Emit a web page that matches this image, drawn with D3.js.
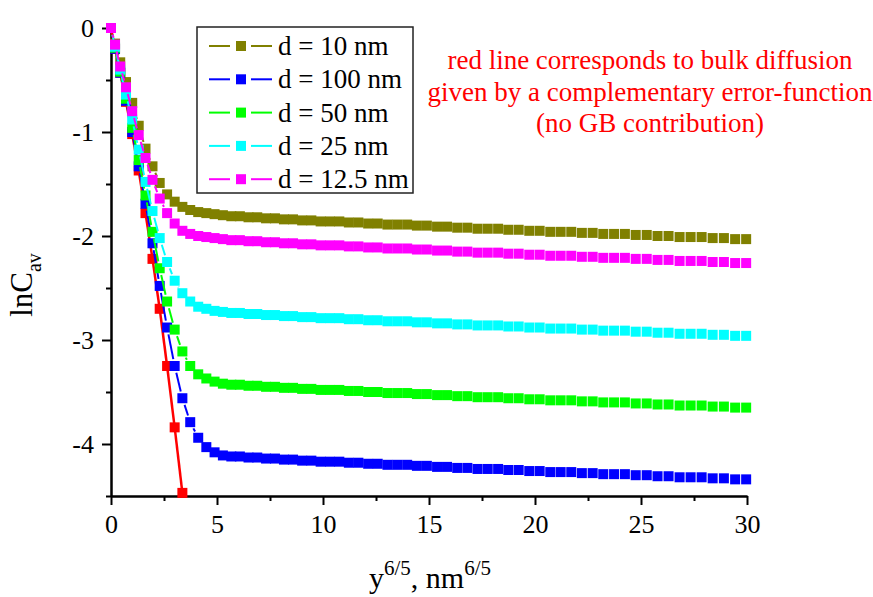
<!DOCTYPE html>
<html>
<head>
<meta charset="utf-8">
<script src="https://cdn.jsdelivr.net/npm/d3@7"></script>
<style>
  body { margin: 0; background: #fff; }
  svg { display: block; font-family: "Liberation Serif", "Times New Roman", serif; }
</style>
</head>
<body>
<div id="chart"></div>
<script>
// x = y^(6/5) positions of the computed points (same for every curve)
const xValues = [
  0, 0.19, 0.435, 0.708, 1, 1.307, 1.627, 1.957, 2.297, 2.646,
  3.003, 3.367, 3.737, 4.114, 4.497, 4.885, 5.278, 5.676, 6.079, 6.487,
  6.899, 7.314, 7.734, 8.158, 8.586, 9.017, 9.451, 9.889, 10.33, 10.77,
  11.22, 11.67, 12.13, 12.58, 13.04, 13.50, 13.97, 14.43, 14.90, 15.38,
  15.85, 16.33, 16.81, 17.29, 17.77, 18.26, 18.74, 19.23, 19.73, 20.22,
  20.72, 21.21, 21.71, 22.21, 22.72, 23.22, 23.73, 24.24, 24.75, 25.27,
  25.78, 26.30, 26.82, 27.34, 27.86, 28.38, 28.91, 29.44, 29.96
];

// lnC_av for each grain size
const lnC_d10 = [
  0, -0.15, -0.33, -0.52, -0.72, -0.94, -1.16, -1.33, -1.49, -1.60,
  -1.67, -1.72, -1.75, -1.77, -1.78, -1.79,
  -1.80, -1.81, -1.81, -1.82, -1.82, -1.83, -1.83, -1.84, -1.84, -1.85,
  -1.85, -1.86, -1.86, -1.86, -1.87, -1.87, -1.88, -1.88, -1.89, -1.89,
  -1.89, -1.90, -1.90, -1.91, -1.91, -1.92, -1.92, -1.93, -1.93, -1.93,
  -1.94, -1.94, -1.95, -1.95, -1.96, -1.96, -1.96, -1.97, -1.97, -1.98,
  -1.98, -1.98, -1.99, -1.99, -2.00, -2.00, -2.01, -2.01, -2.01, -2.02,
  -2.02, -2.03, -2.03
];
const lnC_d100 = [
  0, -0.20, -0.43, -0.70, -1.00, -1.33, -1.69, -2.07, -2.48, -2.88,
  -3.25, -3.56, -3.79, -3.94, -4.03, -4.08,
  -4.11, -4.12, -4.12, -4.13, -4.13, -4.14, -4.14, -4.15, -4.15, -4.16,
  -4.16, -4.17, -4.17, -4.17, -4.18, -4.18, -4.19, -4.19, -4.20, -4.20,
  -4.20, -4.21, -4.21, -4.22, -4.22, -4.23, -4.23, -4.24, -4.24, -4.24,
  -4.25, -4.25, -4.26, -4.26, -4.27, -4.27, -4.27, -4.28, -4.28, -4.29,
  -4.29, -4.29, -4.30, -4.30, -4.31, -4.31, -4.32, -4.32, -4.32, -4.33,
  -4.33, -4.34, -4.34
];
const lnC_d50 = [
  0, -0.19, -0.42, -0.68, -0.96, -1.27, -1.61, -1.96, -2.31, -2.63,
  -2.90, -3.11, -3.25, -3.33, -3.37, -3.40,
  -3.42, -3.43, -3.43, -3.44, -3.44, -3.45, -3.45, -3.46, -3.46, -3.47,
  -3.47, -3.48, -3.48, -3.48, -3.49, -3.49, -3.50, -3.50, -3.51, -3.51,
  -3.51, -3.52, -3.52, -3.53, -3.53, -3.54, -3.54, -3.55, -3.55, -3.55,
  -3.56, -3.56, -3.57, -3.57, -3.58, -3.58, -3.58, -3.59, -3.59, -3.60,
  -3.60, -3.60, -3.61, -3.61, -3.62, -3.62, -3.63, -3.63, -3.63, -3.64,
  -3.64, -3.65, -3.65
];
const lnC_d25 = [
  0, -0.18, -0.40, -0.64, -0.88, -1.17, -1.48, -1.76, -2.02, -2.25,
  -2.43, -2.55, -2.63, -2.68, -2.70, -2.72,
  -2.73, -2.74, -2.74, -2.75, -2.75, -2.76, -2.76, -2.77, -2.77, -2.78,
  -2.78, -2.79, -2.79, -2.79, -2.80, -2.80, -2.81, -2.81, -2.82, -2.82,
  -2.82, -2.83, -2.83, -2.84, -2.84, -2.85, -2.85, -2.86, -2.86, -2.86,
  -2.87, -2.87, -2.88, -2.88, -2.89, -2.89, -2.89, -2.90, -2.90, -2.91,
  -2.91, -2.91, -2.92, -2.92, -2.93, -2.93, -2.94, -2.94, -2.94, -2.95,
  -2.95, -2.96, -2.96
];
const lnC_d12_5 = [
  0, -0.16, -0.37, -0.57, -0.80, -1.03, -1.25, -1.46, -1.64, -1.78,
  -1.88, -1.95, -1.98, -2.00, -2.01, -2.02,
  -2.03, -2.04, -2.04, -2.05, -2.05, -2.06, -2.06, -2.07, -2.07, -2.08,
  -2.08, -2.09, -2.09, -2.09, -2.10, -2.10, -2.11, -2.11, -2.12, -2.12,
  -2.12, -2.13, -2.13, -2.14, -2.14, -2.15, -2.15, -2.16, -2.16, -2.16,
  -2.17, -2.17, -2.18, -2.18, -2.19, -2.19, -2.19, -2.20, -2.20, -2.21,
  -2.21, -2.21, -2.22, -2.22, -2.23, -2.23, -2.24, -2.24, -2.24, -2.25,
  -2.25, -2.26, -2.26
];
// bulk diffusion only (erfc), first points only
const lnC_bulk = [0, -0.20, -0.43, -0.71, -1.02, -1.37, -1.78, -2.22, -2.70, -3.25, -3.84, -4.47];

const seriesNames = ["d = 10 nm", "d = 100 nm", "d = 50 nm", "d = 25 nm", "d = 12.5 nm"];
const seriesValues = [lnC_d10, lnC_d100, lnC_d50, lnC_d25, lnC_d12_5];
const seriesColors = ["#808000", "#0000ff", "#00ff00", "#00ffff", "#ff00ff"];

const xTicks = [0, 5, 10, 15, 20, 25, 30];
const xMinorTicks = [2.5, 7.5, 12.5, 17.5, 22.5, 27.5];
const yTicks = [0, -1, -2, -3, -4];
const yMinorTicks = [-0.5, -1.5, -2.5, -3.5, -4.5];

const noteLines = [
  "red line corresponds to bulk diffusion",
  "given by a complementary error-function",
  "(no GB contribution)"
];

const W = 873, H = 597;
const sym = 10;

const svg = d3.select("#chart").append("svg")
  .attr("width", W)
  .attr("height", H);

svg.append("rect").attr("width", W).attr("height", H).attr("fill", "#fff");

const x = d3.scaleLinear().domain([0, 30]).range([111, 747]);
const y = d3.scaleLinear().domain([-4.5, 0]).range([496, 28]);

// axes: minor ticks first, then major ticks with labels
function styleAxis(g) {
  g.selectAll("path.domain").attr("stroke", "#000").attr("stroke-width", 2);
  g.selectAll(".tick line").attr("stroke", "#000").attr("stroke-width", 2);
  g.selectAll(".tick text")
    .attr("fill", "#000")
    .style("font-family", "'Liberation Serif', 'Times New Roman', serif")
    .style("font-size", "26px");
}

svg.append("g")
  .attr("transform", `translate(0,${y(-4.5)})`)
  .call(d3.axisBottom(x).tickValues(xMinorTicks).tickSize(5).tickSizeOuter(0).tickFormat(""))
  .call(styleAxis);
svg.append("g")
  .attr("transform", `translate(0,${y(-4.5)})`)
  .call(d3.axisBottom(x).tickValues(xTicks).tickSize(9).tickSizeOuter(0).tickPadding(10).tickFormat(d3.format("d")))
  .call(styleAxis);

svg.append("g")
  .attr("transform", `translate(${x(0)},0)`)
  .call(d3.axisLeft(y).tickValues(yMinorTicks).tickSize(5).tickSizeOuter(0).tickFormat(""))
  .call(styleAxis);
svg.append("g")
  .attr("transform", `translate(${x(0)},0)`)
  .call(d3.axisLeft(y).tickValues(yTicks).tickSize(9).tickSizeOuter(0).tickPadding(8)
    .tickFormat(d => d === 0 ? "0" : "-" + Math.abs(d)))
  .call(styleAxis);

// axis titles
const yTitle = svg.append("text")
  .attr("transform", "translate(32,285) rotate(-90)")
  .attr("text-anchor", "middle")
  .style("font-size", "31px");
yTitle.append("tspan").text("lnC");
yTitle.append("tspan").attr("dy", 9).style("font-size", "20px").text("av");

const xTitle = svg.append("text")
  .attr("x", 430)
  .attr("y", 588)
  .attr("text-anchor", "middle")
  .style("font-size", "30px");
xTitle.append("tspan").text("y");
xTitle.append("tspan").attr("dy", -13).style("font-size", "21px").text("6/5");
xTitle.append("tspan").attr("dy", 13).text(", nm");
xTitle.append("tspan").attr("dy", -13).style("font-size", "21px").text("6/5");

// line segments broken around each symbol (Origin style)
function drawSeries(values, color, gap, width) {
  const pts = values.map((v, i) => [x(xValues[i]), y(v)]);
  const g = svg.append("g");
  for (let i = 1; i < pts.length; i++) {
    const [x0, y0] = pts[i - 1], [x1, y1] = pts[i];
    const len = Math.hypot(x1 - x0, y1 - y0);
    if (len <= 2 * gap) continue;
    const ux = (x1 - x0) / len, uy = (y1 - y0) / len;
    g.append("line")
      .attr("x1", x0 + ux * gap).attr("y1", y0 + uy * gap)
      .attr("x2", x1 - ux * gap).attr("y2", y1 - uy * gap)
      .attr("stroke", color)
      .attr("stroke-width", width);
  }
  g.selectAll("rect")
    .data(pts)
    .join("rect")
    .attr("x", d => d[0] - sym / 2)
    .attr("y", d => d[1] - sym / 2)
    .attr("width", sym)
    .attr("height", sym)
    .attr("fill", color);
}

drawSeries(lnC_bulk, "#ff0000", 4, 2.5);
seriesValues.forEach((vals, i) => drawSeries(vals, seriesColors[i], 7, 2));

// legend
const legend = svg.append("g");
legend.append("rect")
  .attr("x", 197).attr("y", 27)
  .attr("width", 216).attr("height", 166)
  .attr("fill", "#fff")
  .attr("stroke", "#222")
  .attr("stroke-width", 1.5);

seriesNames.forEach((name, i) => {
  const base = 55 + i * 33.3;
  const cy = base - 9;
  const row = legend.append("g");
  row.append("line").attr("x1", 209).attr("x2", 230).attr("y1", cy).attr("y2", cy)
    .attr("stroke", seriesColors[i]).attr("stroke-width", 2);
  row.append("line").attr("x1", 251).attr("x2", 272).attr("y1", cy).attr("y2", cy)
    .attr("stroke", seriesColors[i]).attr("stroke-width", 2);
  row.append("rect").attr("x", 241 - sym / 2).attr("y", cy - sym / 2)
    .attr("width", sym).attr("height", sym).attr("fill", seriesColors[i]);
  row.append("text")
    .attr("x", 278).attr("y", base)
    .style("font-size", "27px")
    .text(name);
});

// note in red
svg.append("g").selectAll("text")
  .data(noteLines)
  .join("text")
  .attr("x", 650)
  .attr("y", (d, i) => 69 + i * 31.5)
  .attr("text-anchor", "middle")
  .attr("fill", "#ff0000")
  .style("font-size", "27px")
  .text(d => d);
</script>
</body>
</html>
